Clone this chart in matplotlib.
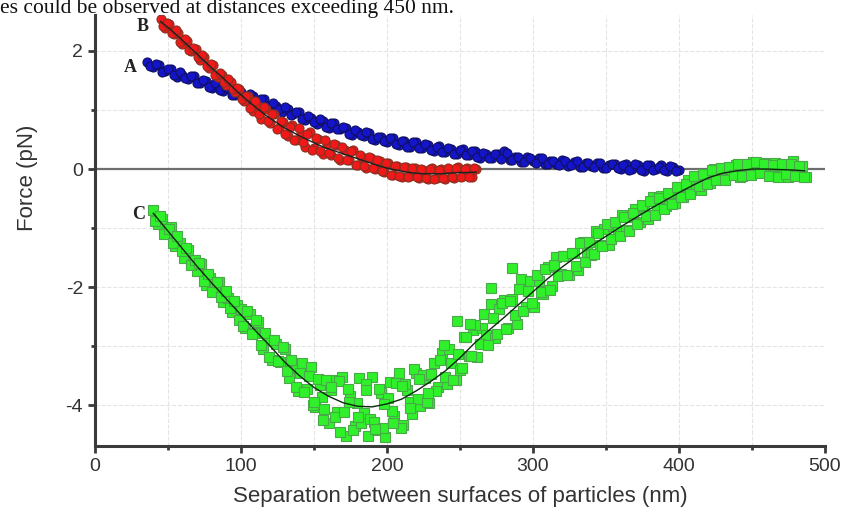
import numpy as np
import matplotlib.pyplot as plt
from matplotlib.ticker import MultipleLocator

# Curve A (blue), separation in nm and force in pN
a_x = np.arange(36, 401, 4)
a_y = [1.82, 1.72, 1.77, 1.66, 1.69, 1.56, 1.59, 1.52, 1.57, 1.46,
       1.49, 1.37, 1.41, 1.33, 1.39, 1.26, 1.30, 1.17, 1.24, 1.14,
       1.18, 1.06, 1.07, 0.96, 1.02, 0.93, 0.97, 0.83, 0.87, 0.77,
       0.81, 0.70, 0.78, 0.67, 0.70, 0.58, 0.63, 0.56, 0.61, 0.50,
       0.55, 0.46, 0.52, 0.41, 0.47, 0.38, 0.46, 0.36, 0.41, 0.30,
       0.39, 0.28, 0.34, 0.25, 0.34, 0.24, 0.30, 0.19, 0.26, 0.19,
       0.26, 0.31, 0.15, 0.21, 0.12, 0.20, 0.13, 0.19, 0.09, 0.14,
       0.08, 0.15, 0.05, 0.12, 0.03, 0.11, 0.05, 0.11, 0.02, 0.07,
       0.08, 0.00, 0.08, 0.00, 0.06, -0.03, 0.06, 0.00, 0.06, -0.03,
       0.04, -0.02]
a2_x = np.arange(38, 399, 4)
a2_y = [1.75, 1.78, 1.65, 1.69, 1.59, 1.65, 1.54, 1.57, 1.45, 1.50,
        1.39, 1.45, 1.34, 1.39, 1.26, 1.31, 1.21, 1.27, 1.15, 1.18,
        1.06, 1.11, 1.01, 1.05, 0.92, 0.96, 0.84, 0.90, 0.80, 0.85,
        0.72, 0.78, 0.67, 0.72, 0.60, 0.66, 0.57, 0.62, 0.51, 0.55,
        0.47, 0.53, 0.42, 0.48, 0.38, 0.45, 0.36, 0.42, 0.32, 0.37,
        0.29, 0.35, 0.25, 0.33, 0.24, 0.31, 0.21, 0.27, 0.18, 0.26,
        0.17, 0.27, 0.16, 0.21, 0.12, 0.18, 0.11, 0.18, 0.08, 0.14,
        0.06, 0.13, 0.06, 0.13, 0.04, 0.10, 0.03, 0.10, 0.01, 0.09,
        0.01, 0.07, -0.01, 0.08, -0.01, 0.06, -0.02, 0.04, -0.02, 0.05,
        -0.03]

# Curve B (red)
b_x = np.arange(45, 262, 3)
b_y = [2.54, 2.39, 2.46, 2.29, 2.30, 2.11, 2.17, 2.00, 2.04, 1.85,
       1.89, 1.71, 1.76, 1.56, 1.60, 1.42, 1.47, 1.31, 1.36, 1.15,
       1.23, 0.99, 1.09, 0.85, 1.01, 0.78, 0.93, 0.70, 0.80, 0.56,
       0.75, 0.49, 0.60, 0.38, 0.62, 0.36, 0.51, 0.26, 0.42, 0.23,
       0.40, 0.15, 0.33, 0.16, 0.32, 0.07, 0.20, 0.01, 0.19, 0.00,
       0.14, -0.05, 0.11, -0.10, 0.05, -0.14, 0.03, -0.12, 0.02, -0.15,
       -0.01, -0.17, 0.02, -0.15, 0.00, -0.17, -0.01, -0.15, 0.03, -0.12,
       0.01, -0.14, 0.00]
b2_x = np.arange(46.5, 260, 3)
b2_y = [2.43, 2.48, 2.31, 2.36, 2.16, 2.20, 2.01, 2.05, 1.89, 1.93,
        1.74, 1.78, 1.59, 1.63, 1.48, 1.53, 1.35, 1.38, 1.18, 1.23,
        1.03, 1.16, 0.93, 1.05, 0.81, 0.93, 0.67, 0.82, 0.59, 0.72,
        0.50, 0.69, 0.45, 0.60, 0.33, 0.52, 0.30, 0.49, 0.27, 0.42,
        0.19, 0.37, 0.16, 0.30, 0.07, 0.23, 0.05, 0.21, 0.01, 0.15,
        -0.04, 0.11, -0.10, 0.05, -0.12, 0.03, -0.13, 0.02, -0.13, 0.00,
        -0.15, 0.00, -0.17, -0.01, -0.16, 0.02, -0.13, 0.01, -0.13, 0.00,
        -0.14, 0.02]
b_fit_x = [45, 51, 57, 63, 69, 75, 81, 87, 93, 99, 105, 111, 117, 123, 129,
           135, 141, 147, 153, 159, 165, 171, 177, 183, 189, 195, 201, 207,
           213, 219, 225, 231, 237, 243, 249, 255, 261]
b_fit_y = [2.50, 2.38, 2.25, 2.11, 1.97, 1.83, 1.69, 1.56, 1.42, 1.28, 1.15,
           1.03, 0.91, 0.81, 0.71, 0.63, 0.55, 0.48, 0.41, 0.35, 0.30, 0.25,
           0.20, 0.15, 0.10, 0.05, 0.01, -0.02, -0.05, -0.07, -0.08, -0.08,
           -0.08, -0.07, -0.06, -0.06, -0.05]

# Curve C (green)
c_x = np.arange(40, 488, 3)
c_y = [-0.70, -0.94, -0.85, -1.06, -0.99, -1.31, -1.26, -1.51, -1.38, -1.58,
       -1.73, -1.61, -1.96, -1.84, -2.01, -1.92, -2.25, -2.19, -2.43, -2.30,
       -2.37, -2.70, -2.45, -2.77, -2.59, -3.05, -2.90, -3.23, -2.97, -3.27,
       -3.05, -3.54, -3.36, -3.76, -3.28, -3.72, -3.36, -4.04, -3.66, -4.06,
       -4.30, -3.58, -4.12, -3.53, -4.52, -3.84, -4.36, -3.54, -4.13, -4.53,
       -3.53, -4.42, -3.80, -4.54, -3.61, -4.19, -3.46, -4.33, -3.74, -4.15,
       -3.46, -4.01, -3.54, -3.96, -3.28, -3.69, -3.11, -3.65, -3.28, -3.57,
       -3.40, -2.85, -3.17, -2.73, -3.18, -2.69, -2.82, -2.29, -2.87, -2.38,
       -2.22, -2.70, -2.21, -2.62, -1.86, -2.34, -1.90, -2.34, -1.89, -2.12,
       -1.66, -1.98, -1.49, -1.78, -1.47, -1.79, -1.43, -1.71, -1.23, -1.40,
       -1.45, -1.05, -1.28, -1.01, -1.29, -0.96, -1.03, -0.78, -1.04, -0.81,
       -0.68, -0.90, -0.64, -0.85, -0.47, -0.66, -0.45, -0.63, -0.43, -0.58,
       -0.30, -0.48, -0.18, -0.34, -0.17, -0.35, -0.12, -0.24, 0.00, -0.13,
       -0.17, 0.02, -0.10, 0.07, -0.14, 0.05, -0.08, 0.12, -0.03, 0.07,
       0.10, -0.08, 0.11, -0.11, 0.04, -0.14, 0.13, -0.08, 0.05, -0.13]
# second pass of green points, in three stretches
c2_x = np.arange(41.5, 130, 3)
c2_y = [-0.88, -0.79, -1.10, -1.01, -1.26, -1.13, -1.39, -1.34, -1.63, -1.54,
        -1.59, -1.90, -1.78, -2.08, -1.91, -2.17, -2.06, -2.36, -2.24, -2.56,
        -2.66, -2.41, -2.79, -2.55, -2.99, -2.77, -3.19, -2.90, -3.25, -3.01]
c3_x = np.arange(131.5, 297, 3)
c3_y = [-3.43, -3.23, -3.70, -3.46, -3.77, -3.51, -3.99, -3.56, -3.87, -3.58,
        -3.75, -4.20, -3.59, -4.11, -3.73, -4.42, -3.97, -4.31, -3.65, -4.23,
        -4.28, -3.73, -4.38, -3.88, -4.10, -3.63, -4.39, -3.64, -3.94, -3.38,
        -3.89, -3.49, -3.94, -3.47, -3.76, -3.24, -3.53, -3.05, -3.58, -3.13,
        -3.37, -2.84, -3.17, -2.64, -2.97, -2.46, -2.99, -2.53, -2.80, -2.27,
        -2.71, -2.24, -2.48, -2.04, -2.40, -2.06]
c4_x = np.arange(299.5, 487, 3)
c4_y = [-2.27, -1.80, -2.08, -1.69, -2.05, -1.62, -1.81, -1.47, -1.80, -1.42,
        -1.64, -1.25, -1.58, -1.23, -1.44, -1.09, -1.30, -0.93, -1.18, -0.89,
        -1.13, -0.82, -1.05, -0.75, -0.93, -0.61, -0.80, -0.54, -0.78, -0.49,
        -0.67, -0.41, -0.60, -0.30, -0.48, -0.26, -0.42, -0.12, -0.29, -0.09,
        -0.26, -0.01, -0.18, 0.02, -0.19, 0.03, -0.10, 0.08, -0.11, 0.09,
        -0.10, 0.12, -0.07, 0.09, -0.11, 0.07, -0.13, 0.09, -0.08, 0.09,
        -0.11, 0.05, -0.13]
# a few stray points in the well and on the rising side
c5_x = [150, 156, 162, 168, 174, 180, 186, 192, 198, 204, 210, 216, 222, 228,
        239, 248, 257, 271, 286]
c5_y = [-3.95, -4.25, -3.70, -4.45, -3.95, -4.20, -3.75, -4.40, -3.98, -4.30,
        -3.68, -4.05, -3.55, -3.80, -2.98, -2.58, -2.63, -2.02, -1.67]
c_fit_x = [40, 50, 60, 70, 80, 90, 100, 110, 120, 130, 140, 150, 160, 170, 180,
           190, 200, 210, 220, 230, 240, 250, 260, 270, 280, 290, 300, 310, 320,
           330, 340, 350, 360, 370, 380, 390, 400, 410, 420, 430, 440, 450, 460,
           470, 480, 486]
c_fit_y = [-0.75, -1.05, -1.35, -1.65, -1.93, -2.20, -2.47, -2.74, -3.00, -3.27,
           -3.50, -3.70, -3.85, -3.96, -4.02, -4.03, -3.98, -3.90, -3.76, -3.60,
           -3.42, -3.20, -2.95, -2.73, -2.52, -2.30, -2.08, -1.86, -1.66, -1.48,
           -1.30, -1.14, -0.98, -0.83, -0.68, -0.54, -0.40, -0.27, -0.15, -0.07,
           -0.03, 0.00, 0.00, -0.01, -0.02, -0.03]

plt.rcParams['font.family'] = ['Liberation Sans', 'DejaVu Sans']
plt.rcParams['axes.unicode_minus'] = False

fig = plt.figure(figsize=(8.47, 5.16), dpi=100)
ax = fig.add_axes([0.112, 0.136, 0.862, 0.835])

ax.axhline(0, color='#6e6e6e', lw=1.6, zorder=1)

green = dict(marker='s', ls='none', ms=7, mfc='#2ff02a', mec='#4aa84a', mew=0.8, zorder=2)
for xs, ys in [(c_x, c_y), (c2_x, c2_y), (c3_x, c3_y), (c4_x, c4_y), (c5_x, c5_y)]:
    ax.plot(xs, ys, **green)
blue = dict(marker='o', ls='none', ms=6.5, mfc='#1414c8', mec='#101060', mew=0.8, zorder=3)
ax.plot(a_x, a_y, **blue)
ax.plot(a2_x, a2_y, **blue)
red = dict(marker='o', ls='none', ms=6.5, mfc='#f01818', mec='#8a3020', mew=0.8, zorder=3)
ax.plot(b_x, b_y, **red)
ax.plot(b2_x, b2_y, **red)
ax.plot(c_fit_x, c_fit_y, color='#0a2a0a', lw=1.0, zorder=4)
ax.plot(b_fit_x, b_fit_y, color='#202020', lw=1.0, zorder=4)

# curve letters
serif = ['Liberation Serif', 'DejaVu Serif']
ax.text(33, 2.42, 'B', family=serif, fontweight='bold', fontsize=13, color='#222222',
        ha='center', va='center')
ax.text(24, 1.72, 'A', family=serif, fontweight='bold', fontsize=13, color='#222222',
        ha='center', va='center')
ax.text(30, -0.77, 'C', family=serif, fontweight='bold', fontsize=13, color='#222222',
        ha='center', va='center')

ax.set_xlim(0, 500)
ax.set_ylim(-4.69, 2.61)
ax.set_xticks([0, 100, 200, 300, 400, 500])
ax.set_yticks([-4, -2, 0, 2])
ax.xaxis.set_minor_locator(MultipleLocator(50))
ax.yaxis.set_minor_locator(MultipleLocator(1))
ax.grid(True, which='both', color='#e4e4e4', lw=0.8, ls='--', zorder=0)
ax.set_axisbelow(True)

for side in ['top', 'right']:
    ax.spines[side].set_visible(False)
for side in ['left', 'bottom']:
    ax.spines[side].set_linewidth(2.2)
    ax.spines[side].set_color('#3a3a3a')
ax.tick_params(which='major', length=5, width=2, color='#3a3a3a', labelsize=14,
               labelcolor='#333333')
ax.tick_params(which='minor', length=3, width=2, color='#3a3a3a')

ax.set_xlabel('Separation between surfaces of particles (nm)', fontsize=16,
              color='#333333', labelpad=8)
fig.text(0.033, 0.655, 'Force (pN)', rotation=90, fontsize=16, color='#333333',
         ha='center', va='center')

# line of the surrounding document text above the figure
fig.text(0.0, 1 - 12.5 / 516, 'es could be observed at distances exceeding 450 nm.',
         family=serif, fontsize=15.5, color='#111111', ha='left', va='baseline')

fig.savefig('out.png', dpi=100)
